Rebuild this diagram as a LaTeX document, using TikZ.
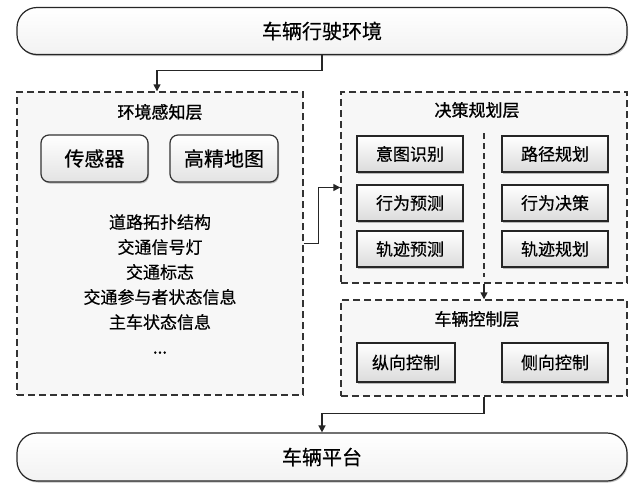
\documentclass[tikz,border=0pt]{standalone}
\usepackage{fontspec}
\setmainfont{Noto Sans CJK SC}[FakeBold=0.6]
\newfontfamily\medfont{Noto Sans CJK SC}[FakeBold=0.5]
\newfontfamily\semifont{Noto Sans CJK SC}[FakeBold=1.0]
\usetikzlibrary{arrows.meta,shadows}
\begin{document}
\begin{tikzpicture}[x=1pt,y=-1pt,
  shd/.style={drop shadow={shadow xshift=1pt,shadow yshift=-1.5pt,fill=black,opacity=0.25}},
  env/.style={draw=black!85, line width=1.2pt, rounded corners=20pt, top color=white, bottom color=gray!10,
    minimum width=610pt, minimum height=47pt, inner sep=0pt, font=\medfont\fontsize{20}{24}\selectfont, shd},
  layer/.style={draw=black!80, line width=1.4pt, dash pattern=on 7pt off 4pt, fill=gray!6, inner sep=0pt},
  rbox/.style={draw=black!80, line width=1.2pt, rounded corners=8pt, top color=white, bottom color=gray!22,
    minimum width=107pt, minimum height=47pt, inner sep=0pt, font=\medfont\fontsize{20}{24}\selectfont, shd},
  item/.style={draw=black!85, line width=1.5pt, top color=white, bottom color=gray!28,
    minimum width=106pt, minimum height=36pt, inner sep=0pt, font=\medfont\fontsize{17}{20}\selectfont, shd},
  ttl/.style={inner sep=0pt, font=\semifont\fontsize{17}{20}\selectfont},
  conn/.style={draw=black!85, line width=1.4pt, -{Triangle[length=7pt,width=7pt]}}
]
\fill[white] (0,0) rectangle (640,488);
\useasboundingbox (0,0) rectangle (640,488);

% layers
\node[layer, minimum width=286pt, minimum height=303pt] (perc) at (160,243.5) {};
\node[layer, minimum width=286pt, minimum height=191pt] (dec) at (484,187.5) {};
\node[layer, minimum width=286pt, minimum height=96pt] (ctrl) at (484,348) {};

% environment and platform
\node[env] (envt) at (322,31) {车辆行驶环境};
\node[env, minimum height=48pt] (plat) at (322,457) {车辆平台};

% perception layer
\node[ttl] (ptitle) at (160,112) {环境感知层};
\node[rbox] (sensor) at (94.5,158.5) {传感器};
\node[rbox, minimum width=108pt] (hdmap) at (224,158.5) {高精地图};
\node[inner sep=0pt, align=center, font=\medfont\fontsize{17}{25}\selectfont] (plist) at (160,284)
  {道路拓扑结构\\交通信号灯\\交通标志\\交通参与者状态信息\\主车状态信息\\...};

% decision layer
\node[ttl] (dtitle) at (477,110) {决策规划层};
\draw[draw=black!80, line width=1.2pt, dash pattern=on 6pt off 4pt] (484,133) -- (484,277);
\node[item] (intent) at (410,154) {意图识别};
\node[item] (bpred) at (410,203) {行为预测};
\node[item] (tpred) at (410,249) {轨迹预测};
\node[item] (route) at (555,154) {路径规划};
\node[item] (bdec) at (555,203) {行为决策};
\node[item] (tplan) at (555,249) {轨迹规划};

% control layer
\node[ttl] (ctitle) at (477,319) {车辆控制层};
\node[item, minimum width=98pt, minimum height=39pt] (lon) at (406,362.5) {纵向控制};
\node[item, minimum height=39pt] (lat) at (555,362.5) {侧向控制};

% connectors
\draw[conn] (envt.south) -- ++(0,15.5) -| ([xshift=-3pt]perc.north);
\draw[conn] (perc.east) -- ++(15,0) |- (dec.west);
\draw[conn] (dec.south) -- (ctrl.north);
\draw[conn] (ctrl.south) -- ++(0,17) -| (plat.north);
\end{tikzpicture}
\end{document}
